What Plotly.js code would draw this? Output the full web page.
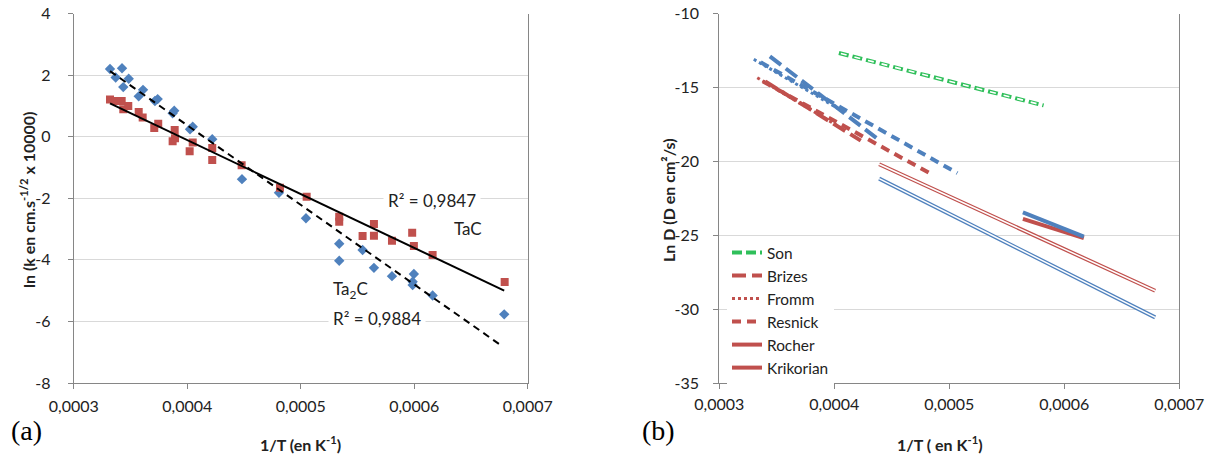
<!DOCTYPE html>
<html>
<head>
<meta charset="utf-8">
<script src="https://cdn.plot.ly/plotly-3.0.1.min.js"></script>
<style>html,body{margin:0;padding:0;background:#fff;}#chart{width:1217px;height:459px;}</style>
</head>
<body>
<div id="chart"></div>
<script>
// ---------- Panel (a) data ----------
const ta2cX = [0.0003319,0.0003369,0.0003425,0.0003484,0.0003436,0.000361,0.0003572,0.0003739,0.0003715,0.0003885,0.0003871,0.0004048,0.0004024,0.000422,0.0004482,0.0004808,0.0005046,0.0005339,0.0005339,0.0005545,0.0005645,0.0005804,0.0005997,0.0005986,0.0005986,0.0006162,0.0006793];
const ta2cY = [2.20,1.92,2.22,1.88,1.61,1.52,1.31,1.22,1.16,0.84,0.76,0.32,0.24,-0.08,-1.38,-1.82,-2.65,-3.48,-4.03,-3.68,-4.26,-4.53,-4.46,-4.71,-4.82,-5.16,-5.77];
const tacX = [0.0003319,0.0003366,0.0003422,0.0003436,0.000348,0.0003572,0.0003607,0.0003709,0.0003744,0.0003889,0.0003871,0.0003892,0.0004048,0.0004021,0.000422,0.000422,0.0004479,0.0004817,0.0005052,0.0005339,0.0005339,0.0005545,0.0005645,0.0005645,0.0005804,0.0005982,0.0005997,0.0006162,0.0006797];
const tacY = [1.21,1.16,1.16,0.89,1.00,0.80,0.62,0.28,0.42,0.22,-0.15,-0.05,-0.19,-0.47,-0.37,-0.76,-0.93,-1.66,-1.95,-2.60,-2.76,-3.23,-2.84,-3.22,-3.38,-3.12,-3.55,-3.84,-4.72];
const tacFitX = [0.0003319,0.0006793];
const tacFitY = [1.08,-5.00];
const ta2cFitX = [0.0003319,0.000677];
const ta2cFitY = [2.13,-6.79];

// ---------- Panel (b) data ----------
const sonX = [0.000404,0.000582];        const sonY = [-12.67,-16.22];
const brizesRedX = [0.000340,0.000423];  const brizesRedY = [-14.6,-18.6];
const brizesBlueX = [0.000344,0.000438]; const brizesBlueY = [-12.9,-18.5];
const frommRedX = [0.000333,0.000405];   const frommRedY = [-14.35,-17.7];
const frommBlueX = [0.000330,0.000405];  const frommBlueY = [-13.1,-16.5];
const resnickRedX = [0.000338,0.000484]; const resnickRedY = [-14.6,-20.85];
const resnickBlueX = [0.000336,0.000507];const resnickBlueY = [-13.3,-20.8];
const rocherRedX = [0.000564,0.000617];  const rocherRedY = [-23.9,-25.2];
const rocherBlueX = [0.000564,0.000617]; const rocherBlueY = [-23.45,-25.1];
const krikRedX = [0.000439,0.000679];    const krikRedY = [-20.2,-28.76];
const krikBlueX = [0.000439,0.000679];   const krikBlueY = [-21.17,-30.56];

// ---------- Tick labels ----------
const xTickVals = [0.0003,0.0004,0.0005,0.0006,0.0007];
const xTickText = ["0,0003","0,0004","0,0005","0,0006","0,0007"];
const yTickValsA = [4,2,0,-2,-4,-6,-8];
const yTickTextA = ["4","2","0","-2","-4","-6","-8"];
const yTickValsB = [-10,-15,-20,-25,-30,-35];
const yTickTextB = ["-10","-15","-20","-25","-30","-35"];

const RED = '#c0504d', BLUE = '#4f81bd', GREEN = '#2fbf5a';
const FONT = 'Lato, "Open Sans", sans-serif';

function ln(x, y, color, width, dash, name, showlegend, xa, ya, group) {
  return {x: x, y: y, type: 'scatter', mode: 'lines', name: name, showlegend: !!showlegend,
    xaxis: xa || 'x2', yaxis: ya || 'y2', hoverinfo: 'skip', legendgroup: group || name,
    line: {color: color, width: width, dash: dash || 'solid'}};
}

const traces = [
  {x: ta2cX, y: ta2cY, type: 'scatter', mode: 'markers', name: 'Ta2C', showlegend: false,
   marker: {symbol: 'diamond', size: 8, color: BLUE}, xaxis: 'x', yaxis: 'y'},
  {x: tacX, y: tacY, type: 'scatter', mode: 'markers', name: 'TaC', showlegend: false,
   marker: {symbol: 'square', size: 8, color: RED}, xaxis: 'x', yaxis: 'y'},
  ln(tacFitX, tacFitY, '#000', 2, 'solid', 'TaC fit', false, 'x', 'y'),
  ln(ta2cFitX, ta2cFitY, '#000', 2, '7px,5px', 'Ta2C fit', false, 'x', 'y'),

  // panel b
  ln(sonX, sonY, GREEN, 4, '10px,4px', 'Son', true),
  ln(sonX, sonY, '#fff', 1.6, '0px,2px,6px,6px', 'Son', false),
  ln(brizesRedX, brizesRedY, RED, 4, '14px,6px', 'Brizes', true),
  ln(frommRedX, frommRedY, RED, 3, '3px,3px', 'Fromm', true),
  ln(resnickRedX, resnickRedY, RED, 4, '9px,6px', 'Resnick', true),
  ln(rocherRedX, rocherRedY, RED, 4, 'solid', 'Rocher', true),
  ln(krikRedX, krikRedY, RED, 4, 'solid', 'Krikorian', true),
  ln(krikRedX, krikRedY, '#fff', 1.5, 'solid', 'Krikorian', false),
  ln(brizesBlueX, brizesBlueY, BLUE, 4, '14px,6px', 'Brizes', false),
  ln(frommBlueX, frommBlueY, BLUE, 3, '3px,3px', 'Fromm', false),
  ln(resnickBlueX, resnickBlueY, BLUE, 4, '9px,6px', 'Resnick', false),
  ln(rocherBlueX, rocherBlueY, BLUE, 4, 'solid', 'Rocher', false),
  ln(krikBlueX, krikBlueY, BLUE, 4, 'solid', 'Krikorian', false),
  ln(krikBlueX, krikBlueY, '#fff', 1.5, 'solid', 'Krikorian', false)
];

const axisCommon = {
  showline: true, linecolor: '#868686', linewidth: 1,
  ticks: 'outside', ticklen: 5, tickcolor: '#868686',
  tickfont: {family: FONT, size: 16, color: '#222'},
  zeroline: false, fixedrange: true
};

const yDom = [1 - 383/459, 1 - 13.5/459];

function ann(x, y, text, extra) {
  return Object.assign({xref: 'paper', yref: 'paper', x: x/1217, y: 1 - y/459, text: text, showarrow: false,
    xanchor: 'center', yanchor: 'middle', font: {family: FONT, size: 16, color: '#222'}}, extra || {});
}

const layout = {
  width: 1217, height: 459,
  margin: {l: 0, r: 0, t: 0, b: 0},
  paper_bgcolor: '#fff', plot_bgcolor: '#fff',
  separators: ', ',
  font: {family: FONT, size: 16, color: '#222'},
  xaxis: Object.assign({}, axisCommon, {domain: [73.8/1217, 527.7/1217], range: [0.0003, 0.0007],
    tickvals: xTickVals, ticktext: xTickText, showgrid: false, anchor: 'y', ticklabelstandoff: 4}),
  yaxis: Object.assign({}, axisCommon, {domain: yDom, range: [-8, 4], tickvals: yTickValsA, ticktext: yTickTextA,
    showgrid: true, gridcolor: '#d9d9d9', anchor: 'x', ticklabelstandoff: 14, mirror: true}),
  xaxis2: Object.assign({}, axisCommon, {domain: [719.3/1217, 1179.3/1217], range: [0.0003, 0.0007],
    tickvals: xTickVals, ticktext: xTickText, showgrid: false, anchor: 'y2', ticklabelstandoff: 2}),
  yaxis2: Object.assign({}, axisCommon, {domain: yDom, range: [-35, -10], tickvals: yTickValsB, ticktext: yTickTextB,
    showgrid: true, gridcolor: '#d9d9d9', anchor: 'x2', ticklabelstandoff: 11, mirror: true}),
  showlegend: true,
  legend: {x: 727/1217, y: 1 - 236/459, xanchor: 'left', yanchor: 'top', bgcolor: '#fff',
    font: {family: FONT, size: 15.4, color: '#222'}, tracegroupgap: 0, itemwidth: 30, borderwidth: 0},
  annotations: [
    {xref: 'x', yref: 'y', x: 0.0006156, y: -2.08, text: 'R² = 0,9847', showarrow: false, xanchor: 'center', yanchor: 'middle',
     bgcolor: '#fff', font: {family: FONT, size: 17, color: '#222'}, borderpad: 4},
    {xref: 'x', yref: 'y', x: 0.000647, y: -2.97, text: 'TaC', showarrow: false, xanchor: 'center', yanchor: 'middle',
     font: {family: FONT, size: 17, color: '#222'}},
    {xref: 'x', yref: 'y', x: 0.000544, y: -4.98, text: 'Ta<sub>2</sub>C', showarrow: false, xanchor: 'center', yanchor: 'middle',
     font: {family: FONT, size: 17, color: '#222'}},
    {xref: 'x', yref: 'y', x: 0.0005676, y: -5.89, text: 'R² = 0,9884', showarrow: false, xanchor: 'center', yanchor: 'middle',
     bgcolor: '#fff', font: {family: FONT, size: 17, color: '#222'}, borderpad: 4},
    // axis titles
    ann(300, 443, '<b>1/T (en K<sup>-1</sup>)</b>'),
    ann(940, 443, '<b>1/T ( en K<sup>-1</sup>)</b>'),
    ann(27, 200, '<b>ln (k en cm.s<sup>-1/2</sup> x 10000)</b>', {textangle: -90}),
    ann(668, 200, '<b>Ln D (D en cm²/s)</b>', {textangle: -90}),
    // panel labels
    ann(26, 430, '(a)', {font: {family: '"Liberation Serif", "DejaVu Serif", serif', size: 28, color: '#000'}}),
    ann(658, 430, '(b)', {font: {family: '"Liberation Serif", "DejaVu Serif", serif', size: 28, color: '#000'}})
  ]
};

Plotly.newPlot('chart', traces, layout, {displayModeBar: false, staticPlot: true});
</script>
</body>
</html>
